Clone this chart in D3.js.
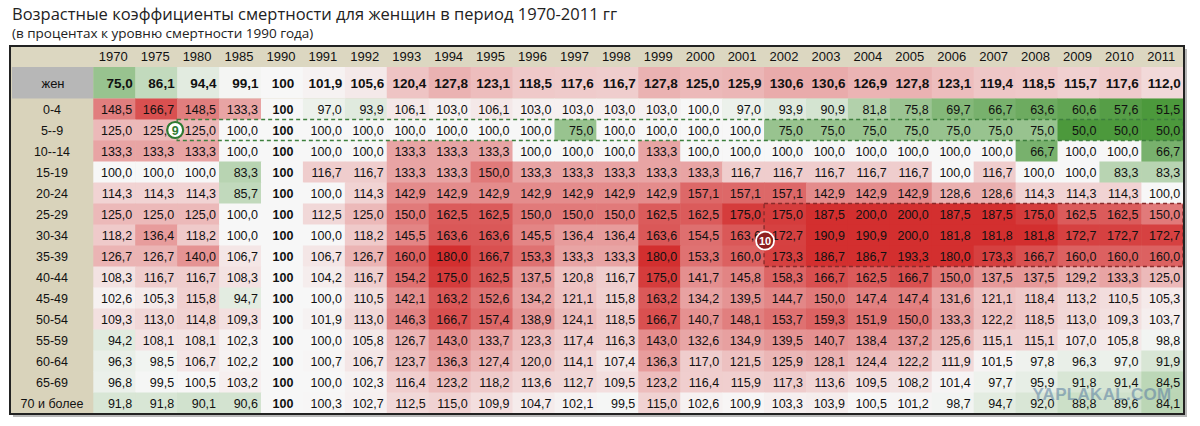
<!DOCTYPE html>
<html>
<head>
<meta charset="utf-8">
<script src="https://cdn.jsdelivr.net/npm/d3@7"></script>
<style>
  body { margin: 0; background: #fff; }
  svg text { font-family: "Liberation Sans", Arial, sans-serif; }
</style>
</head>
<body>
<svg id="chart" width="1200" height="426"></svg>
<script>
// column years
let years = ["1970", "1975", "1980", "1985", "1990", "1991", "1992", "1993", "1994", "1995", "1996",
    "1997", "1998", "1999", "2000", "2001", "2002", "2003", "2004", "2005", "2006", "2007", "2008",
    "2009", "2010", "2011"];

// all women, % of 1990 level
let zhen = [75.0, 86.1, 94.4, 99.1, 100, 101.9, 105.6, 120.4, 127.8, 123.1, 118.5, 117.6, 116.7,
    127.8, 125.0, 125.9, 130.6, 130.6, 126.9, 127.8, 123.1, 119.4, 118.5, 115.7, 117.6, 112.0];

// age groups
let ages = ["0-4", "5--9", "10--14", "15-19", "20-24", "25-29", "30-34", "35-39", "40-44", "45-49",
    "50-54", "55-59", "60-64", "65-69", "70 и более"];

let a0_4 = [148.5, 166.7, 148.5, 133.3, 100, 97.0, 93.9, 106.1, 103.0, 106.1, 103.0, 103.0, 103.0,
    103.0, 100.0, 97.0, 93.9, 90.9, 81.8, 75.8, 69.7, 66.7, 63.6, 60.6, 57.6, 51.5];
let a5_9 = [125.0, 125.0, 125.0, 100.0, 100, 100.0, 100.0, 100.0, 100.0, 100.0, 100.0, 75.0, 100.0,
    100.0, 100.0, 100.0, 75.0, 75.0, 75.0, 75.0, 75.0, 75.0, 75.0, 50.0, 50.0, 50.0];
let a10_14 = [133.3, 133.3, 133.3, 100.0, 100, 100.0, 100.0, 133.3, 133.3, 133.3, 100.0, 100.0, 100.0,
    133.3, 100.0, 100.0, 100.0, 100.0, 100.0, 100.0, 100.0, 100.0, 66.7, 100.0, 100.0, 66.7];
let a15_19 = [100.0, 100.0, 100.0, 83.3, 100, 116.7, 116.7, 133.3, 133.3, 150.0, 133.3, 133.3, 133.3,
    133.3, 133.3, 116.7, 116.7, 116.7, 116.7, 116.7, 100.0, 116.7, 100.0, 100.0, 83.3, 83.3];
let a20_24 = [114.3, 114.3, 114.3, 85.7, 100, 100.0, 114.3, 142.9, 142.9, 142.9, 142.9, 142.9, 142.9,
    142.9, 157.1, 157.1, 157.1, 142.9, 142.9, 142.9, 128.6, 128.6, 114.3, 114.3, 114.3, 100.0];
let a25_29 = [125.0, 125.0, 125.0, 100.0, 100, 112.5, 125.0, 150.0, 162.5, 162.5, 150.0, 150.0, 150.0,
    162.5, 162.5, 175.0, 175.0, 187.5, 200.0, 200.0, 187.5, 187.5, 175.0, 162.5, 162.5, 150.0];
let a30_34 = [118.2, 136.4, 118.2, 100.0, 100, 100.0, 118.2, 145.5, 163.6, 163.6, 145.5, 136.4, 136.4,
    163.6, 154.5, 163.6, 172.7, 190.9, 190.9, 200.0, 181.8, 181.8, 181.8, 172.7, 172.7, 172.7];
let a35_39 = [126.7, 126.7, 140.0, 106.7, 100, 106.7, 126.7, 160.0, 180.0, 166.7, 153.3, 133.3, 133.3,
    180.0, 153.3, 160.0, 173.3, 186.7, 186.7, 193.3, 180.0, 173.3, 166.7, 160.0, 160.0, 160.0];
let a40_44 = [108.3, 116.7, 116.7, 108.3, 100, 104.2, 116.7, 154.2, 175.0, 162.5, 137.5, 120.8, 116.7,
    175.0, 141.7, 145.8, 158.3, 166.7, 162.5, 166.7, 150.0, 137.5, 137.5, 129.2, 133.3, 125.0];
let a45_49 = [102.6, 105.3, 115.8, 94.7, 100, 100.0, 110.5, 142.1, 163.2, 152.6, 134.2, 121.1, 115.8,
    163.2, 134.2, 139.5, 144.7, 150.0, 147.4, 147.4, 131.6, 121.1, 118.4, 113.2, 110.5, 105.3];
let a50_54 = [109.3, 113.0, 114.8, 109.3, 100, 101.9, 113.0, 146.3, 166.7, 157.4, 138.9, 124.1, 118.5,
    166.7, 140.7, 148.1, 153.7, 159.3, 151.9, 150.0, 133.3, 122.2, 118.5, 113.0, 109.3, 103.7];
let a55_59 = [94.2, 108.1, 108.1, 102.3, 100, 100.0, 105.8, 126.7, 143.0, 133.7, 123.3, 117.4, 116.3,
    143.0, 132.6, 134.9, 139.5, 140.7, 138.4, 137.2, 125.6, 115.1, 115.1, 107.0, 105.8, 98.8];
let a60_64 = [96.3, 98.5, 106.7, 102.2, 100, 100.7, 106.7, 123.7, 136.3, 127.4, 120.0, 114.1, 107.4,
    136.3, 117.0, 121.5, 125.9, 128.1, 124.4, 122.2, 111.9, 101.5, 97.8, 96.3, 97.0, 91.9];
let a65_69 = [96.8, 99.5, 100.5, 103.2, 100, 100.0, 102.3, 116.4, 123.2, 118.2, 113.6, 112.7, 109.5,
    123.2, 116.4, 115.9, 117.3, 113.6, 109.5, 108.2, 101.4, 97.7, 95.9, 91.8, 91.4, 84.5];
let a70plus = [91.8, 91.8, 90.1, 90.6, 100, 100.3, 102.7, 112.5, 115.0, 109.9, 104.7, 102.1, 99.5,
    115.0, 102.6, 100.9, 103.3, 103.9, 100.5, 101.2, 98.7, 94.7, 92.0, 88.8, 89.6, 84.1];

let ageValues = [a0_4, a5_9, a10_14, a15_19, a20_24, a25_29, a30_34, a35_39, a40_44, a45_49,
    a50_54, a55_59, a60_64, a65_69, a70plus];

let svg = d3.select("svg#chart");

let table = { "left": 10, "right": 1184, "top": 46, "bottom": 414 };
let labelRight = 93.3;
let headerBottom = 67;
let zhenBottom = 98.5;

let xScale = d3.scaleBand().domain(years).range([labelRight, table.right - 0.7]);
let yScale = d3.scaleBand().domain(ages).range([zhenBottom, table.bottom - 0.5]);

let color = d3.scaleLinear()
    .domain([55, 100, 180])
    .range(["#4c993c", "#f7f7f7", "#d32f2f"])
    .clamp(true);

let ru = d3.formatLocale({ decimal: ",", thousands: " ", grouping: [3], currency: ["", ""] });
let fmt = ru.format(".1f");
let label = (v, year) => year === "1990" ? "100" : fmt(v);

// title
svg.append("text").attr("x", 12).attr("y", 20)
    .style("font-family", "'Open Sans', sans-serif").style("font-size", "16.5px").attr("fill", "#222")
    .text("Возрастные коэффициенты смертности для женщин в период 1970-2011 гг");
svg.append("text").attr("x", 12).attr("y", 37.5)
    .style("font-family", "'Open Sans', sans-serif").style("font-size", "13.5px").attr("fill", "#222")
    .text("(в процентах к уровню смертности 1990 года)");

// shadow + background
svg.append("rect")
    .attr("x", table.left + 3).attr("y", table.top + 3)
    .attr("width", table.right - table.left).attr("height", table.bottom - table.top)
    .attr("fill", "#b8b8b8");
svg.append("rect")
    .attr("x", table.left).attr("y", table.top)
    .attr("width", table.right - table.left).attr("height", table.bottom - table.top)
    .attr("fill", "#d9d3bb");

// header row
svg.append("rect")
    .attr("x", table.left).attr("y", table.top)
    .attr("width", table.right - table.left).attr("height", headerBottom - table.top)
    .attr("fill", "#dcd7c1");
svg.append("g").selectAll("text").data(years).join("text")
    .attr("x", d => xScale(d) + xScale.bandwidth() / 2 - 1)
    .attr("y", table.top + 15)
    .attr("text-anchor", "middle")
    .style("font-size", "13px").attr("fill", "#111")
    .text(d => d);

// жен row
svg.append("rect")
    .attr("x", table.left + 2).attr("y", headerBottom)
    .attr("width", labelRight - table.left - 2).attr("height", zhenBottom - headerBottom)
    .attr("fill", "#b7b7b7");
svg.append("text")
    .attr("x", 53).attr("y", (headerBottom + zhenBottom) / 2 + 5)
    .attr("text-anchor", "middle").style("font-size", "13px").attr("fill", "#111")
    .text("жен");

let zhenG = svg.append("g");
zhenG.selectAll("rect").data(zhen).join("rect")
    .attr("x", (d, i) => xScale(years[i]))
    .attr("y", headerBottom)
    .attr("width", xScale.bandwidth() + 0.5)
    .attr("height", zhenBottom - headerBottom)
    .attr("fill", d => color(d));
zhenG.selectAll("text").data(zhen).join("text")
    .attr("x", (d, i) => years[i] === "1990" ? xScale(years[i]) + xScale.bandwidth() / 2 + 1 : xScale(years[i]) + xScale.bandwidth() - 2.5)
    .attr("y", (headerBottom + zhenBottom) / 2 + 5)
    .attr("text-anchor", (d, i) => years[i] === "1990" ? "middle" : "end")
    .style("font-size", "13.5px").style("font-weight", "bold").attr("fill", "#111")
    .text((d, i) => label(d, years[i]));

// age rows
let cells = [];
ageValues.forEach(function (row, r) {
    row.forEach(function (v, c) {
        cells.push({ "age": ages[r], "year": years[c], "val": v });
    });
});

svg.append("g").selectAll("rect").data(cells).join("rect")
    .attr("x", d => xScale(d.year))
    .attr("y", d => yScale(d.age))
    .attr("width", xScale.bandwidth() + 0.5)
    .attr("height", yScale.bandwidth() + 0.5)
    .attr("fill", d => color(d.val));

svg.append("g").selectAll("text").data(cells).join("text")
    .attr("x", d => d.year === "1990" ? xScale(d.year) + xScale.bandwidth() / 2 + 1 : xScale(d.year) + xScale.bandwidth() - 3)
    .attr("y", d => yScale(d.age) + yScale.bandwidth() / 2 + 4.5)
    .attr("text-anchor", d => d.year === "1990" ? "middle" : "end")
    .style("font-size", "12.5px")
    .style("font-weight", d => d.year === "1990" ? "bold" : "normal")
    .attr("fill", "#111")
    .text(d => label(d.val, d.year));

svg.append("g").selectAll("text").data(ages).join("text")
    .attr("x", 52)
    .attr("y", d => yScale(d) + yScale.bandwidth() / 2 + 4.5)
    .attr("text-anchor", "middle")
    .style("font-size", "12.5px").attr("fill", "#111")
    .text(d => d);

// highlighted ranges
svg.append("rect")
    .attr("x", xScale("1980")).attr("y", yScale("5--9"))
    .attr("width", table.right - 1 - xScale("1980")).attr("height", yScale.bandwidth())
    .attr("fill", "none").attr("stroke", "#3d7f3d").attr("stroke-width", 1.3)
    .attr("stroke-dasharray", "4,3");
svg.append("rect")
    .attr("x", xScale("2002")).attr("y", yScale("25-29"))
    .attr("width", table.right - 1 - xScale("2002")).attr("height", yScale("35-39") + yScale.bandwidth() - yScale("25-29"))
    .attr("fill", "none").attr("stroke", "#8a2b2b").attr("stroke-width", 1.4)
    .attr("stroke-dasharray", "4,3");

// markers
let m9x = xScale("1980") - 2, m9y = yScale("5--9") + yScale.bandwidth() / 2;
svg.append("circle").attr("cx", m9x).attr("cy", m9y).attr("r", 8)
    .attr("fill", "#fff").attr("stroke", "#2f7a33").attr("stroke-width", 2.2);
svg.append("text").attr("x", m9x).attr("y", m9y + 4.5).attr("text-anchor", "middle")
    .style("font-size", "12.5px").style("font-weight", "bold").attr("fill", "#2f7a33").text("9");

let m10x = xScale("2002") + 1, m10y = yScale("30-34") + yScale.bandwidth() * 0.77;
svg.append("circle").attr("cx", m10x).attr("cy", m10y).attr("r", 9)
    .attr("fill", "#8e1f1f").attr("stroke", "#fff").attr("stroke-width", 1.8);
svg.append("text").attr("x", m10x).attr("y", m10y + 4).attr("text-anchor", "middle")
    .style("font-size", "11px").style("font-weight", "bold").attr("fill", "#fff").text("10");

// watermark
svg.append("text").attr("x", 1102).attr("y", 400).attr("text-anchor", "middle")
    .style("font-size", "17px").style("font-weight", "bold").style("letter-spacing", "0.3px")
    .attr("fill", "#5b7ea3").attr("opacity", 0.55)
    .text("YAPLAKAL.COM");

// frame
svg.append("rect")
    .attr("x", table.left).attr("y", table.top)
    .attr("width", table.right - table.left).attr("height", table.bottom - table.top)
    .attr("fill", "none").attr("stroke", "#222").attr("stroke-width", 2);
</script>
</body>
</html>
